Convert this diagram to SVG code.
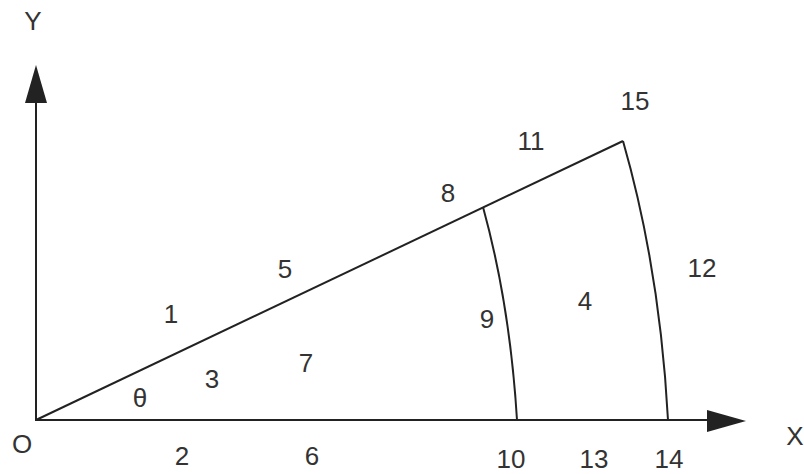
<svg xmlns="http://www.w3.org/2000/svg" width="804" height="474" viewBox="0 0 804 474">
<style>
.ln{fill:none;stroke:#222;stroke-width:2}
.t{font-family:"Liberation Sans",Arial,sans-serif;font-size:26px;fill:#333;text-anchor:middle}
.ah{fill:#222}
</style>
<rect width="804" height="474" fill="#fff"/>
<g id="connectors">
<line class="ln" x1="36" y1="421" x2="36" y2="90"/>
<polygon class="ah" points="36,65 47,103 25,103"/>
<line class="ln" x1="35" y1="420" x2="720" y2="420"/>
<polygon class="ah" points="746,421 707,410 707,432"/>
<line class="ln" x1="36" y1="420" x2="623" y2="141"/>
<path class="ln" d="M483,207 Q510,305 517,420"/>
<path class="ln" d="M623,141 Q660,270 668,420"/>
</g>
<g id="labels">
<text class="t" x="33" y="30">Y</text>
<text class="t" x="635" y="110">15</text>
<text class="t" x="531" y="150">11</text>
<text class="t" x="448" y="202">8</text>
<text class="t" x="285" y="278">5</text>
<text class="t" x="702" y="277">12</text>
<text class="t" x="171" y="323">1</text>
<text class="t" x="585" y="310">4</text>
<text class="t" x="487" y="328">9</text>
<text class="t" x="306" y="372">7</text>
<text class="t" x="212" y="388">3</text>
<text class="t" x="140" y="407">θ</text>
<text class="t" x="22" y="453">O</text>
<text class="t" x="182" y="465">2</text>
<text class="t" x="312" y="465">6</text>
<text class="t" x="511" y="468">10</text>
<text class="t" x="594" y="468">13</text>
<text class="t" x="669" y="468">14</text>
<text class="t" x="795" y="445">X</text>
</g>
</svg>
